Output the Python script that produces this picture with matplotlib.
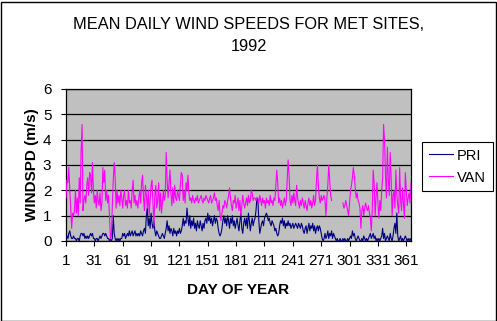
import numpy as np
import matplotlib
matplotlib.use("Agg")
import matplotlib.pyplot as plt
from matplotlib.patches import Rectangle

plt.rcParams['font.family'] = ['Liberation Sans', 'DejaVu Sans']

title = "MEAN DAILY WIND SPEEDS FOR MET SITES,\n1992"
x_label = "DAY OF YEAR"
y_label = "WINDSPD (m/s)"
series_names = ["PRI", "VAN"]
x_ticks = [1, 31, 61, 91, 121, 151, 181, 211, 241, 271, 301, 331, 361]
y_ticks = [0, 1, 2, 3, 4, 5, 6]

days = list(range(1, 367))

pri = [
    0.1, 0.2, 0.1, 0.3, 0.4, 0.2, 0.1, 0.1, 0.2, 0.1,
    0.1, 0.0, 0.1, 0.1, 0.0, 0.2, 0.3, 0.3, 0.2, 0.3,
    0.1, 0.2, 0.1, 0.2, 0.1, 0.2, 0.3, 0.2, 0.3, 0.1,
    0.1, 0.0, 0.1, 0.1, 0.0, 0.1, 0.2, 0.1, 0.2, 0.3,
    0.3, 0.2, 0.3, 0.2, 0.1, 0.1, 0.0, 0.1, 0.0, 0.1,
    1.0, 0.3, 0.1, 0.0, 0.1, 0.0, 0.1, 0.0, 0.1, 0.1,
    0.3, 0.2, 0.3, 0.1, 0.2, 0.3, 0.2, 0.4, 0.2, 0.3,
    0.4, 0.2, 0.3, 0.4, 0.2, 0.3, 0.2, 0.3, 0.2, 0.4,
    0.3, 0.2, 0.4, 0.5, 0.3, 1.0, 1.3, 0.6, 0.9, 0.5,
    1.1, 0.7, 0.5, 0.8, 0.4, 0.2, 0.4, 0.3, 0.2, 0.1,
    0.1, 0.2, 0.3, 0.2, 0.1, 0.3, 0.5, 0.8, 0.4, 0.6,
    0.3, 0.5, 0.4, 0.2, 0.5, 0.3, 0.4, 0.2, 0.4, 0.3,
    0.5, 0.3, 0.4, 0.6, 0.9, 0.6, 0.8, 0.7, 1.3, 0.9,
    0.6, 1.0, 0.5, 0.8, 0.6, 0.9, 0.5, 0.7, 0.4, 0.8,
    0.6, 0.5, 0.8, 0.6, 0.4, 0.7, 0.5, 0.8, 0.9, 0.7,
    1.1, 0.8, 1.0, 0.7, 0.9, 0.6, 0.8, 1.0, 0.7, 0.9,
    0.8, 0.5, 0.3, 0.2, 0.3, 0.5, 0.8, 1.0, 0.7, 0.9,
    0.6, 1.0, 0.8, 0.5, 0.9, 0.7, 1.0, 0.6, 0.8, 0.5,
    0.7, 0.9, 0.6, 0.4, 0.8, 1.1, 0.5, 0.3, 0.7, 0.9,
    0.6, 0.9, 0.5, 1.1, 0.8, 0.4, 0.7, 0.9, 0.6, 0.8,
    0.9, 1.2, 1.7, 1.6, 0.8, 0.3, 0.5, 0.7, 0.8, 0.6,
    0.9, 1.0, 1.1, 1.0, 0.8, 0.9, 0.7, 0.6, 0.8, 0.7,
    0.6, 0.4, 0.5, 0.3, 0.2, 0.3, 0.6, 0.8, 0.7, 0.9,
    0.6, 0.8, 0.5, 0.7, 0.6, 0.8, 0.6, 0.7, 0.5, 0.6,
    0.7, 0.5, 0.6, 0.7, 0.6, 0.5, 0.7, 0.6, 0.5, 0.7,
    0.6, 0.4, 0.3, 0.5, 0.6, 0.3, 0.5, 0.7, 0.4, 0.6,
    0.5, 0.7, 0.4, 0.6, 0.3, 0.5, 0.6, 0.4, 0.6, 0.5,
    0.3, 0.1, 0.0, 0.1, 0.3, 0.1, 0.2, 0.4, 0.1, 0.3,
    0.2, 0.4, 0.1, 0.3, 0.2, 0.1, 0.0, 0.1, 0.0, 0.0,
    0.1, 0.0, 0.0, 0.1, 0.0, 0.1, 0.0, 0.0, 0.1, 0.0,
    0.1, 0.2, 0.1, 0.4, 0.2, 0.3, 0.1, 0.0, 0.1, 0.2,
    0.1, 0.0, 0.0, 0.1, 0.0, 0.2, 0.1, 0.0, 0.1, 0.0,
    0.1, 0.2, 0.3, 0.1, 0.2, 0.3, 0.1, 0.2, 0.0, 0.1,
    0.0, 0.1, 0.0, 0.1, 0.2, 0.5, 0.1, 0.3, 0.0, 0.1,
    0.2, 0.1, 0.0, 0.3, 0.1, 0.0, 0.2, 0.5, 0.7, 0.3,
    1.1, 0.2, 0.0, 0.1, 0.2, 0.0, 0.1, 0.0, 0.1, 0.2,
    0.1, 0.0, 0.1, 0.0, 0.1, 0.0,
]

NA = None
van = [
    1.7, 2.4, 2.3, 2.9, 2.0, 1.3, 0.5, 1.1, 1.0, 1.2,
    2.0, 1.1, 1.7, 1.0, 2.5, 1.5, 3.6, 4.6, 1.2, 1.6,
    1.8, 1.5, 2.2, 2.5, 1.8, 2.7, 2.6, 1.9, 3.1, 2.0,
    1.5, 1.8, 1.3, 2.0, 1.6, 1.4, 1.9, 1.2, 1.5, 2.9,
    2.3, 2.8, 1.6, 2.0, 1.5, 1.8, 1.0, 0.1, 0.2, 1.4,
    2.4, 3.1, 2.5, 1.3, 2.0, 1.5, 1.8, 1.4, 2.0, 1.7,
    1.3, 1.8, 2.0, 1.4, 1.6, 1.3, 2.0, 1.5, 1.6, 1.3,
    2.0, 2.4, 1.5, 1.8, 1.4, 1.6, 1.3, 1.7, 2.0, 1.5,
    2.3, 2.6, 1.7, 1.2, 2.2, 1.8, 1.3, 2.0, 1.0, 1.6,
    2.2, 2.4, 1.5, 0.6, 1.8, 2.2, 1.3, 1.6, 2.3, 1.2,
    1.9, 1.1, 1.5, 2.0, 1.6, 1.8, 3.5, 2.4, 1.7, 2.3,
    2.8, 1.9, 1.4, 2.1, 1.5, 2.2, 1.7, 1.6, 2.0, 1.8,
    1.6, 2.2, 2.7, 2.6, 1.6, 2.0, 1.5, 2.3, 2.0, 2.6,
    1.9, 1.6, 1.7, 1.5, 1.8, 1.6, 1.5, 1.7, 1.6, 1.8,
    1.5, 1.6, 1.7, 1.8, 1.6, 1.5, 1.7, 1.6, 1.8, 1.7,
    1.6, 1.5, 1.7, 1.8, 1.5, 1.6, 1.7, 1.9, 1.6, 1.7,
    1.4, 1.2, 1.6, 1.0, 0.8, 1.1, 1.4, 1.3, 1.6, 1.5,
    1.3, 1.6, 1.8, 2.1, 1.7, 1.4, 1.2, 1.6, 1.5, 1.8,
    1.3, 1.5, 1.7, 1.2, 1.6, 1.0, 1.4, 1.8, 1.5, 1.3,
    1.5, 1.7, 1.4, 1.8, 1.5, 1.6, 2.0, 1.9, 1.6, 1.7,
    1.7, 1.6, 1.7, 1.7, 1.5, 1.8, 1.6, 1.4, 1.7, 1.5,
    1.6, 1.3, 1.7, 1.5, 1.6, 1.4, 1.8, 1.5, 1.6, 1.4,
    1.7, 1.6, 2.2, 2.8, 2.3, 1.5, 1.7, 1.4, 1.6, 1.3,
    1.5, 1.7, 1.4, 1.6, 2.4, 3.2, 2.6, 1.6, 1.4, 1.8,
    1.5, 1.9, 1.6, 1.4, 2.2, 1.7, 1.5, 1.3, 1.6, 1.4,
    1.7, 1.5, 1.3, 1.6, 1.4, 1.2, 1.5, 1.7, 1.4, 1.6,
    1.3, 1.5, 1.8, 1.4, 1.6, 2.4, 3.0, 2.2, 1.7, 1.5,
    1.8, 1.6, 1.7, 1.8, 1.6, 1.0, 1.7, 2.2, 3.0, 2.4,
    1.8, 1.6, NA, NA, NA, NA, NA, NA, NA, NA,
    NA, NA, NA, 1.5, 1.3, 1.4, 1.6, 1.4, 1.2, 1.0,
    1.5, 2.0, 2.2, 2.5, 2.9, 2.6, 2.1, 1.7, 1.9, 1.6,
    1.5, 1.3, 0.5, 1.2, 1.4, 1.0, 1.3, 1.5, 1.3, 1.2,
    1.4, 1.1, 0.9, 0.4, 1.2, 2.8, 2.3, 1.0, 1.7, 2.3,
    1.5, 0.9, 1.6, 1.2, 2.0, 2.5, 4.6, 4.0, 2.6, 1.7,
    3.7, 2.4, 1.8, 3.5, 2.5, 1.0, 1.8, 2.0, 1.3, 2.8,
    1.8, 1.4, 1.1, 2.9, 1.6, 1.2, 2.1, 1.5, 0.9, 2.7,
    2.0, 1.4, 1.7, 1.9, 1.5, 2.3,
]

assert len(pri) == 366, len(pri)
assert len(van) == 366, len(van)

pri_arr = np.array(pri, dtype=float)
van_arr = np.array([np.nan if v is None else v for v in van], dtype=float)

W, H = 497, 321
fig = plt.figure(figsize=(W / 100, H / 100), dpi=100)
fig.patch.set_facecolor('white')

ax = fig.add_axes([66 / W, 1 - 241 / H, (411 - 66) / W, (241 - 89) / H])
ax.set_facecolor('#C0C0C0')

ax.plot(days, pri_arr, color='#000080', lw=0.8, label=series_names[0], zorder=3)
ax.plot(days, van_arr, color='#FF00FF', lw=0.8, label=series_names[1], zorder=3)

ax.set_xlim(1, 366)
ax.set_ylim(0, 6)
ax.set_xticks(x_ticks)
ax.set_xticklabels([str(t) for t in x_ticks])
ax.set_yticks(y_ticks)
ax.set_yticklabels([str(t) for t in y_ticks])
ax.yaxis.grid(True, color='black', lw=0.9)
ax.set_axisbelow(True)
for s in ax.spines.values():
    s.set_color('black')
    s.set_linewidth(0.9)
ax.tick_params(axis='both', direction='out', length=3.5, width=0.8,
               labelsize=11, colors='black')
ax.tick_params(axis='x', pad=6)
ax.tick_params(axis='y', pad=7)

ax.set_xlabel(x_label, fontsize=11, fontweight='bold', labelpad=11)
ax.set_ylabel(y_label, fontsize=11, fontweight='bold', labelpad=3)

fig.text(0.5, 1 - 35.5 / H, title, ha='center', va='center', fontsize=11.8,
         linespacing=1.55)

leg = ax.legend(loc='upper left', bbox_to_anchor=(422 / W, 1 - 142 / H),
                bbox_transform=fig.transFigure, frameon=True, fancybox=False,
                edgecolor='black', facecolor='white', framealpha=1,
                fontsize=10.5, handlelength=1.65, handletextpad=0.3,
                borderpad=0.45, labelspacing=0.55, borderaxespad=0)
leg.get_frame().set_linewidth(0.8)

fig.add_artist(Rectangle((0.5 / W, 0.5 / H), (W - 2) / W, (H - 2) / H,
                         transform=fig.transFigure, fill=False,
                         edgecolor='black', lw=1))

fig.savefig('out.png', dpi=100)
